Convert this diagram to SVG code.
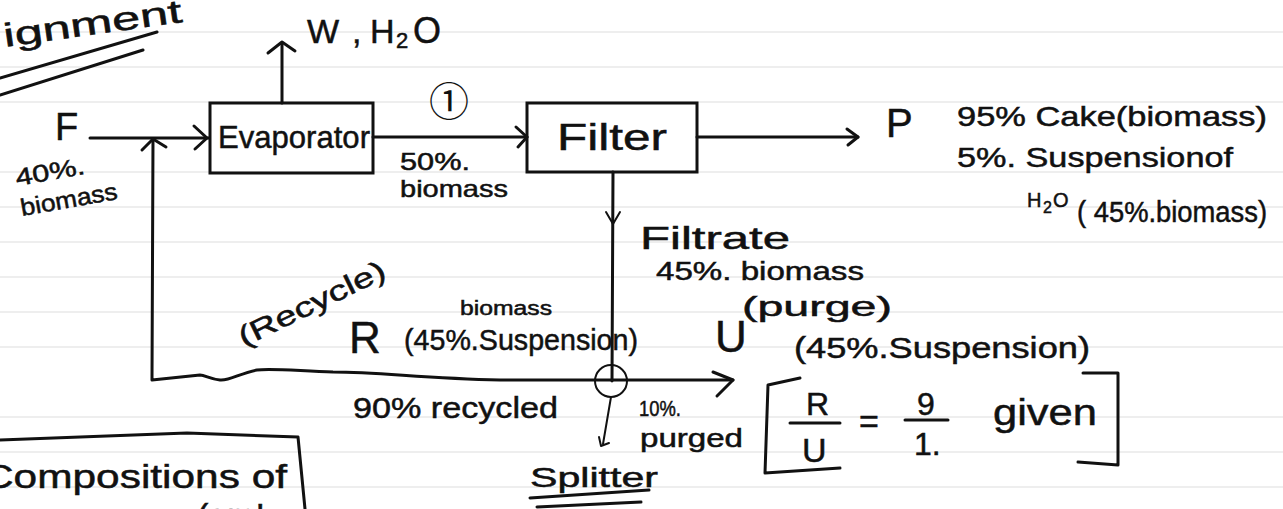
<svg xmlns="http://www.w3.org/2000/svg" width="1283" height="509" viewBox="0 0 1283 509">
<defs>
<style>
.t{font-family:"Liberation Sans",Arial,sans-serif;fill:#111;stroke:#111;stroke-width:0.5}
.ln{stroke:#111;stroke-width:3;fill:none;stroke-linecap:round;stroke-linejoin:round}
.thin{stroke:#111;stroke-width:2;fill:none;stroke-linecap:round;stroke-linejoin:round}
.rule{stroke:#eeeeee;stroke-width:2}
.box{stroke:#111;stroke-width:3;fill:none}
</style>
</defs>
<rect width="1283" height="509" fill="#ffffff"/>
<g id="ruled-paper">
<line class="rule" x1="0" y1="32" x2="1283" y2="32"/>
<line class="rule" x1="0" y1="67" x2="1283" y2="67"/>
<line class="rule" x1="0" y1="102" x2="1283" y2="102"/>
<line class="rule" x1="0" y1="172" x2="1283" y2="172"/>
<line class="rule" x1="0" y1="207" x2="1283" y2="207"/>
<line class="rule" x1="0" y1="242" x2="1283" y2="242"/>
<line class="rule" x1="0" y1="277" x2="1283" y2="277"/>
<line class="rule" x1="0" y1="312" x2="1283" y2="312"/>
<line class="rule" x1="0" y1="347" x2="1283" y2="347"/>
<line class="rule" x1="0" y1="417" x2="1283" y2="417"/>
<line class="rule" x1="0" y1="452" x2="1283" y2="452"/>
<line class="rule" x1="0" y1="487" x2="1283" y2="487"/>
</g>

<g id="title">
<text class="t" x="5" y="47" font-size="33" transform="rotate(-8 5 47)" textLength="180" lengthAdjust="spacingAndGlyphs">ignment</text>
<path class="ln" d="M0 78 L157 32"/>
<path class="ln" d="M0 95 L143 50"/>
</g>

<g id="connectors">
<!-- feed F -->
<path class="ln" d="M90 138 L209 138"/>
<path class="ln" d="M194 126 L207 138 L195 149"/>
<!-- recycle line -->
<path class="ln" d="M733 380 L500 380 C420 378 380 372 333 372 C300 371 270 368 257 370 C240 373 230 381 220 380 C210 379 205 375 200 375 L152 380 L153 139"/>
<path class="ln" d="M142 150 L153 139 L166 147"/>
<path class="ln" d="M713 372 L733 380 L717 396"/>
<!-- vapour out -->
<path class="ln" d="M282 103 L282 43"/>
<path class="ln" d="M268 53 L282 42 L295 51"/>
<!-- evaporator to filter -->
<path class="ln" d="M373 137 L527 137"/>
<path class="ln" d="M516 127 L527 137 L518 147"/>
<!-- filter to P -->
<path class="ln" d="M697 137 L858 137"/>
<path class="ln" d="M847 129 L858 137 L848 145"/>
<!-- filtrate down -->
<path class="ln" d="M613 172 L612 381"/>
<path class="thin" d="M606 212 L613 224 L620 212"/>
<!-- splitter pointer -->
<path class="thin" d="M611 397 L603 444"/>
<path class="thin" d="M599 437 L601 446 L609 443"/>
</g>

<g id="evaporator">
<rect class="box" x="210" y="103" width="163" height="70"/>
<text class="t" x="218" y="148" font-size="32" textLength="152" lengthAdjust="spacingAndGlyphs">Evaporator</text>
</g>

<g id="filter">
<rect class="box" x="527" y="103" width="170" height="69"/>
<text class="t" x="557" y="150" font-size="36" textLength="110" lengthAdjust="spacingAndGlyphs">Filter</text>
</g>

<g id="splitter">
<circle class="thin" cx="611" cy="381" r="16"/>
<text class="t" x="530" y="487" font-size="28" textLength="128" lengthAdjust="spacingAndGlyphs">Splitter</text>
<path class="ln" d="M530 498 L649 490"/>
<path class="ln" d="M537 507 L641 502"/>
</g>

<g id="feed">
<text class="t" x="55" y="140" font-size="38">F</text>
<text class="t" x="17" y="186" font-size="24" transform="rotate(-10 17 186)" textLength="70" lengthAdjust="spacingAndGlyphs">40%.</text>
<text class="t" x="22" y="216" font-size="24" transform="rotate(-10 22 216)" textLength="98" lengthAdjust="spacingAndGlyphs">biomass</text>
</g>

<g id="vapour">
<text class="t" x="307" y="43" font-size="34">W</text>
<text class="t" x="352" y="43" font-size="34">,</text>
<text class="t" x="370" y="43" font-size="34">H</text>
<text class="t" x="396" y="48" font-size="22">2</text>
<text class="t" x="413" y="43" font-size="36">O</text>
</g>

<g id="stream1">
<text x="429" y="116" font-size="40" fill="#111" font-family="'Noto Sans CJK SC','DejaVu Sans',sans-serif">①</text>
<text class="t" x="400" y="170" font-size="24" textLength="70" lengthAdjust="spacingAndGlyphs">50%.</text>
<text class="t" x="400" y="197" font-size="24" textLength="108" lengthAdjust="spacingAndGlyphs">biomass</text>
</g>

<g id="product">
<text class="t" x="886" y="137" font-size="40">P</text>
<text class="t" x="957" y="126" font-size="28" textLength="310" lengthAdjust="spacingAndGlyphs">95% Cake(biomass)</text>
<text class="t" x="957" y="167" font-size="28" textLength="276" lengthAdjust="spacingAndGlyphs">5%. Suspensionof</text>
<text class="t" x="1027" y="207" font-size="20">H</text>
<text class="t" x="1043" y="213" font-size="16">2</text>
<text class="t" x="1053" y="207" font-size="20">O</text>
<text class="t" x="1077" y="222" font-size="30" textLength="190" lengthAdjust="spacingAndGlyphs">( 45%.biomass)</text>
</g>

<g id="filtrate">
<text class="t" x="640" y="249" font-size="32" textLength="150" lengthAdjust="spacingAndGlyphs">Filtrate</text>
<text class="t" x="656" y="280" font-size="26" textLength="208" lengthAdjust="spacingAndGlyphs">45%. biomass</text>
</g>

<g id="recycle-R">
<text class="t" x="244" y="347" font-size="28" transform="rotate(-26 244 347)" textLength="160" lengthAdjust="spacingAndGlyphs">(Recycle)</text>
<text class="t" x="349" y="353" font-size="44">R</text>
<text class="t" x="460" y="315" font-size="20" textLength="92" lengthAdjust="spacingAndGlyphs">biomass</text>
<text class="t" x="404" y="350" font-size="30" textLength="234" lengthAdjust="spacingAndGlyphs">(45%.Suspension)</text>
<text class="t" x="353" y="418" font-size="30" textLength="205" lengthAdjust="spacingAndGlyphs">90% recycled</text>
</g>

<g id="purge-U">
<text class="t" x="715" y="352" font-size="44">U</text>
<text class="t" x="742" y="316" font-size="28" textLength="150" lengthAdjust="spacingAndGlyphs">(purge)</text>
<text class="t" x="794" y="358" font-size="30" textLength="296" lengthAdjust="spacingAndGlyphs">(45%.Suspension)</text>
<text class="t" x="639" y="416" font-size="22" textLength="42" lengthAdjust="spacingAndGlyphs">10%.</text>
<text class="t" x="640" y="447" font-size="25" textLength="103" lengthAdjust="spacingAndGlyphs">purged</text>
</g>

<g id="ratio">
<path class="ln" d="M800 378 L768 385 L765 473 L840 468"/>
<path class="ln" d="M1083 373 L1118 373 L1118 465 L1078 462"/>
<text class="t" x="806" y="415" font-size="32">R</text>
<path class="ln" d="M790 423 L840 423"/>
<text class="t" x="802" y="462" font-size="34">U</text>
<text class="t" x="859" y="433" font-size="34">=</text>
<text class="t" x="917" y="415" font-size="32">9</text>
<path class="ln" d="M905 420 L948 420"/>
<text class="t" x="914" y="455" font-size="32">1.</text>
<text class="t" x="993" y="425" font-size="36" textLength="104" lengthAdjust="spacingAndGlyphs">given</text>
</g>

<g id="compositions">
<path class="ln" d="M0 440 L187 433 L298 437 L305 509"/>
<text class="t" x="-17" y="488" font-size="34" textLength="304" lengthAdjust="spacingAndGlyphs">Compositions of</text>
<text class="t" x="197" y="527" font-size="34">(am!</text>
</g>
</svg>
